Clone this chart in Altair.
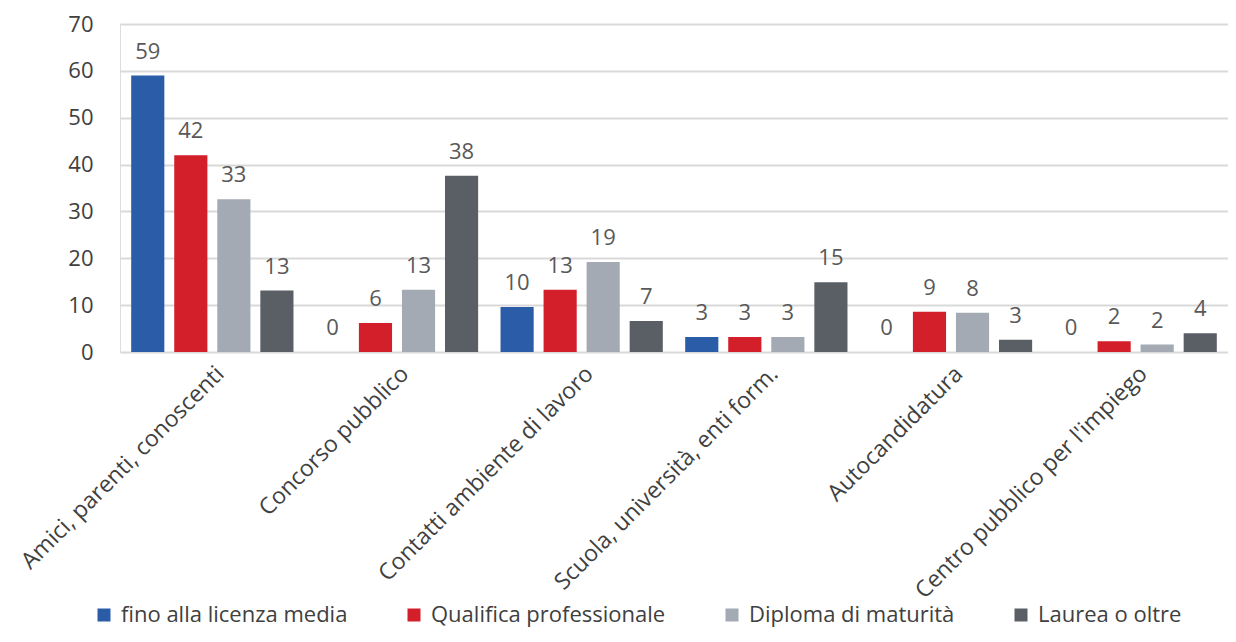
import altair as alt
import pandas as pd

categories = [
    "Amici, parenti, conoscenti",
    "Concorso pubblico",
    "Contatti ambiente di lavoro",
    "Scuola, università, enti form.",
    "Autocandidatura",
    "Centro pubblico per l'impiego",
]
series = [
    "fino alla licenza media",
    "Qualifica professionale",
    "Diploma di maturità",
    "Laurea o oltre",
]
fino = [59.0, 0.0, 9.6, 3.2, 0.0, 0.0]
qualifica = [42.0, 6.2, 13.3, 3.2, 8.6, 2.3]
diploma = [32.6, 13.3, 19.2, 3.2, 8.4, 1.6]
laurea = [13.1, 37.6, 6.6, 14.9, 2.6, 4.0]
colors = ["#2b5ca8", "#d21f2a", "#a3aab3", "#5a5f66"]

rows = []
for s, vals in zip(series, [fino, qualifica, diploma, laurea]):
    for c, v in zip(categories, vals):
        rows.append({"Categoria": c, "Livello": s, "Valore": v})
df = pd.DataFrame(rows)

FONT = "Open Sans"

x = alt.X(
    "Categoria:N",
    sort=categories,
    scale=alt.Scale(paddingInner=0, paddingOuter=0),
    axis=alt.Axis(
        title=None,
        labelAngle=-45,
        labelAlign="right",
        labelBaseline="middle",
        labelFontSize=23,
        labelFont=FONT,
        labelColor="#404040",
        labelPadding=18,
        labelOffset=8,
        labelLimit=400,
        ticks=False,
        domain=False,
        grid=False,
    ),
)
xoff = alt.XOffset(
    "Livello:N",
    sort=series,
    scale=alt.Scale(paddingInner=0.23, paddingOuter=0.26),
)
y = alt.Y(
    "Valore:Q",
    scale=alt.Scale(domain=[0, 70], nice=False),
    axis=alt.Axis(
        title=None,
        values=[0, 10, 20, 30, 40, 50, 60, 70],
        domain=False,
        ticks=False,
        labelFontSize=22,
        labelFont=FONT,
        labelColor="#404040",
        labelPadding=27,
        gridColor="#d9d9d9",
        gridWidth=2,
    ),
)
color = alt.Color(
    "Livello:N",
    sort=series,
    scale=alt.Scale(domain=series, range=colors),
    legend=alt.Legend(
        title=None,
        orient="none",
        direction="horizontal",
        legendX=-27,
        legendY=580,
        symbolType="square",
        symbolSize=169,
        symbolStrokeWidth=0,
        symbolOpacity=1,
        labelFontSize=22,
        labelFont=FONT,
        labelColor="#404040",
        labelOffset=6,
        columnPadding=55,
        labelLimit=400,
        padding=0,
    ),
)

bars = alt.Chart(df).mark_bar().encode(x=x, xOffset=xoff, y=y, color=color)
labels = alt.Chart(df).mark_text(
    baseline="alphabetic", dy=-17, fontSize=22, font=FONT, color="#595959"
).encode(
    x=x,
    xOffset=xoff,
    y=y,
    text=alt.Text("Valore:Q", format=".0f"),
)

chart = (
    alt.layer(bars, labels)
    .properties(
        width=1108,
        height=328,
        autosize=alt.AutoSizeParams(type="none"),
        padding={"left": 112, "top": 16, "right": 0, "bottom": 280},
    )
    .configure_view(stroke=None)
    .configure(background="white")
)

chart.save("out.html", embed_options={"renderer": "svg", "actions": False})
